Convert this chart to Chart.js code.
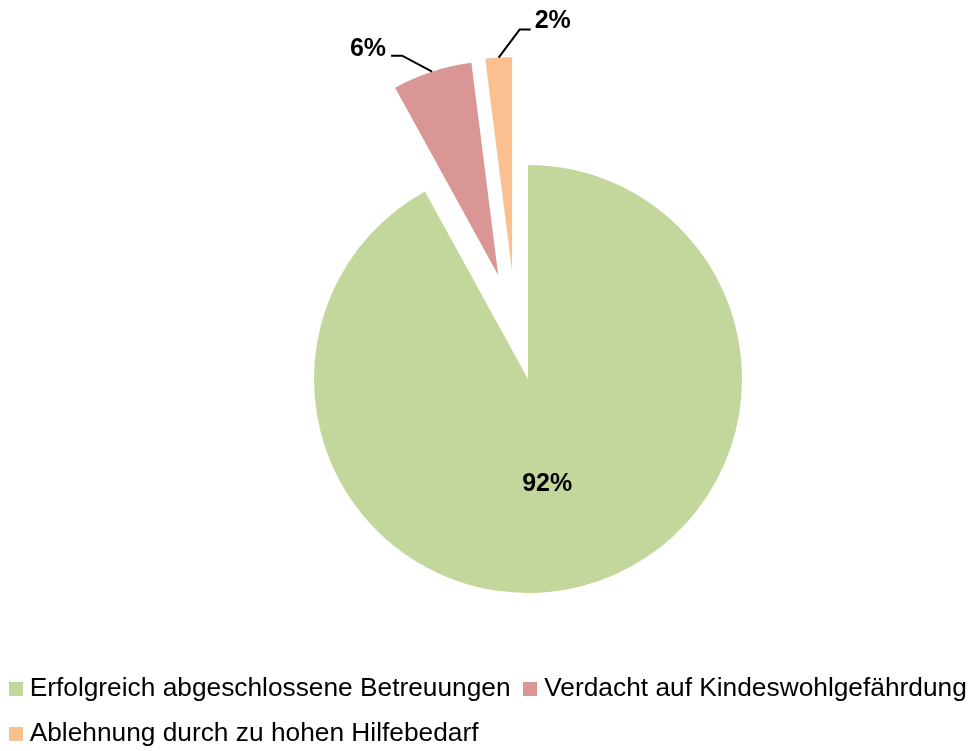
<!DOCTYPE html>
<html>
<head>
<meta charset="utf-8">
<script src="https://cdn.jsdelivr.net/npm/chart.js@4/dist/chart.umd.min.js"></script>
<style>
  html, body { margin: 0; padding: 0; background: #ffffff; }
  #wrap { width: 976px; height: 751px; position: relative; }
</style>
</head>
<body>
<div id="wrap"><canvas id="c" width="976" height="751"></canvas></div>
<script>
const categories = [
  'Erfolgreich abgeschlossene Betreuungen',
  'Verdacht auf Kindeswohlgefährdung',
  'Ablehnung durch zu hohen Hilfebedarf'
];
const shares = [92, 6, 2];
const valueLabels = ['92%', '6%', '2%'];
const sliceColors = ['#C3D69B', '#D99694', '#FAC090'];

const FONT = "'Liberation Sans', Arial, Helvetica, sans-serif";

// small square swatches used as legend point styles
function swatch(color) {
  const c = document.createElement('canvas');
  c.width = 14; c.height = 14;
  const g = c.getContext('2d');
  g.fillStyle = color;
  g.fillRect(0, 0, 14, 14);
  return c;
}
const swatches = sliceColors.map(swatch);

// direction of the pull-out for slice i (canvas radians)
function explodeDir(arc, opts, i) {
  const deg = (opts.directions || [])[i];
  if (deg === null || deg === undefined) return (arc.startAngle + arc.endAngle) / 2;
  return deg * Math.PI / 180;
}

// pulls selected slices outward (pure translation, like an exploded pie)
const explodePlugin = {
  id: 'explode',
  afterDatasetUpdate(chart, args, opts) {
    const meta = chart.getDatasetMeta(0);
    meta.data.forEach((arc, i) => {
      const d = (opts.distances || [])[i] || 0;
      if (!d || arc.$exploded) return;
      const base = arc.draw;
      arc.draw = function (ctx, area) {
        const a = explodeDir(this, opts, i);
        ctx.save();
        ctx.translate(Math.cos(a) * d, Math.sin(a) * d);
        base.call(this, ctx, area);
        ctx.restore();
      };
      arc.$exploded = true;
    });
  }
};

const labelPlugin = {
  id: 'sliceLabels',
  afterDatasetsDraw(chart) {
    const ctx = chart.ctx;
    const meta = chart.getDatasetMeta(0);
    const eo = chart.options.plugins.explode;
    const dist = eo.distances || [];
    ctx.save();
    ctx.font = 'bold 25px ' + FONT;
    ctx.fillStyle = '#000';
    ctx.strokeStyle = '#000';
    ctx.lineWidth = 2;
    meta.data.forEach((arc, i) => {
      const p = arc.getProps(['x', 'y', 'startAngle', 'endAngle', 'outerRadius'], true);
      const mid = (p.startAngle + p.endAngle) / 2;
      const off = dist[i] || 0;
      const a = explodeDir(p, eo, i);
      const cx = p.x + Math.cos(a) * off;
      const cy = p.y + Math.sin(a) * off;
      const r = p.outerRadius;
      ctx.textBaseline = 'middle';
      if (i === 0) {
        ctx.textAlign = 'center';
        ctx.fillText(valueLabels[i], cx + Math.cos(mid) * r * 0.36, cy + Math.sin(mid) * r * 0.505);
        return;
      }
      const ax = cx + Math.cos(mid) * r;
      const ay = cy + Math.sin(mid) * r;
      ctx.beginPath();
      if (i === 1) {
        ctx.moveTo(ax, ay);
        ctx.lineTo(ax - 30, ay - 16);
        ctx.lineTo(ax - 41, ay - 16);
        ctx.stroke();
        ctx.textAlign = 'right';
        ctx.fillText(valueLabels[i], ax - 46, ay - 23);
      } else {
        ctx.moveTo(ax, ay);
        ctx.lineTo(ax + 21, ay - 28);
        ctx.lineTo(ax + 32, ay - 28);
        ctx.stroke();
        ctx.textAlign = 'left';
        ctx.fillText(valueLabels[i], ax + 36, ay - 36);
      }
    });
    ctx.restore();
  }
};

Chart.defaults.font.family = FONT;
Chart.defaults.color = '#000';

new Chart(document.getElementById('c'), {
  type: 'pie',
  data: {
    labels: categories,
    datasets: [{
      data: shares,
      backgroundColor: sliceColors,
      borderWidth: 0,
      hoverOffset: 0,
      clip: false
    }]
  },
  options: {
    responsive: false,
    animation: false,
    radius: 214,
    layout: { padding: { left: -4, right: -30, top: 100.6, bottom: -6 } },
    plugins: {
      explode: { distances: [0, 108, 109], directions: [null, -106, -98.4] },
      tooltip: { enabled: false },
      title: {
        display: true,
        position: 'left',
        text: '',
        font: { size: 12, lineHeight: 1 },
        padding: { top: 36, bottom: 36 }
      },
      legend: {
        display: true,
        position: 'bottom',
        align: 'start',
        labels: {
          usePointStyle: true,
          pointStyleWidth: 2,
          boxHeight: 14,
          padding: 18.5,
          color: '#000',
          font: { size: 26.3, family: FONT },
          generateLabels(chart) {
            return chart.data.labels.map((text, i) => ({
              text,
              fillStyle: sliceColors[i],
              strokeStyle: sliceColors[i],
              lineWidth: 0,
              pointStyle: swatches[i],
              fontColor: '#000',
              hidden: false,
              index: i
            }));
          }
        }
      }
    }
  },
  plugins: [explodePlugin, labelPlugin]
});
</script>
</body>
</html>
